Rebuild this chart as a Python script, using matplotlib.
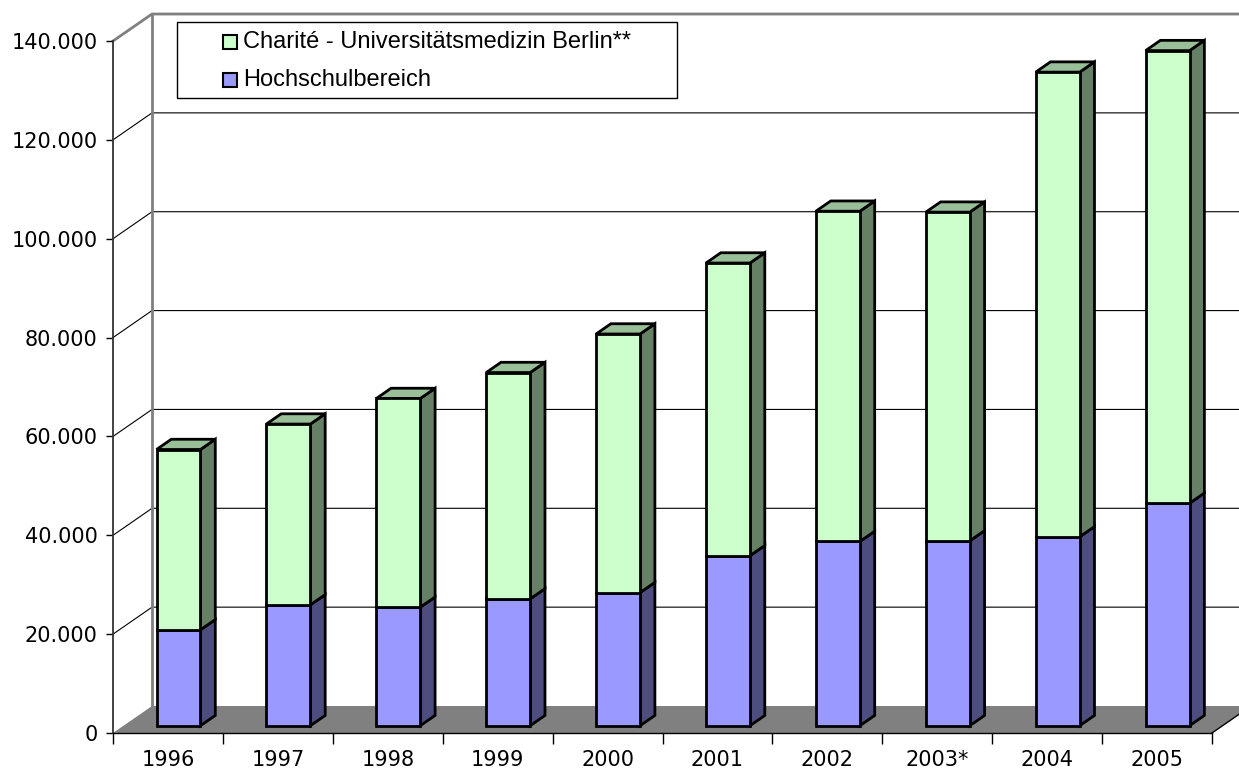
import matplotlib.pyplot as plt
from matplotlib.patches import Polygon, Rectangle
from matplotlib.ticker import FuncFormatter

years = ['1996', '1997', '1998', '1999', '2000', '2001', '2002', '2003*', '2004', '2005']
hochschule = [19400, 24450, 23970, 25660, 26930, 34390, 37270, 37400, 38220, 45000]
charite = [36480, 36580, 42230, 45790, 52320, 59220, 66820, 66500, 94010, 91580]

labels = ['Charité - Universitätsmedizin Berlin**', 'Hochschulbereich']
front_cols = ['#CCFFCC', '#9999FF']
side_cols = ['#668066', '#4D4D80']
top_cols = ['#99BF99', '#7373BF']

W, H = 1239, 771
fig = plt.figure(figsize=(W / 100, H / 100), dpi=100)
ax = fig.add_axes([113 / W, 38 / H, 1099 / W, 692 / H])
n = len(years)
ymax = 140000
ax.set_xlim(0, n)
ax.set_ylim(0, ymax)

# depth of the fake 3d box (categories / value units)
DX = 0.355
DY = 5460
f0, f1 = 0.27, 0.65   # front and back of the bars inside that depth
bw = 0.4

# floor
ax.add_patch(Polygon([(0, 0), (n, 0), (n + DX, DY), (DX, DY)], closed=True,
                     fc='#808080', ec='none', clip_on=False, zorder=1))
ax.plot([n, n + DX], [0, DY], color='black', lw=1, clip_on=False, zorder=2)

# walls and gridlines
for v in range(20000, ymax, 20000):
    ax.plot([0, DX, n + DX], [v, v + DY, v + DY], color='black', lw=0.8,
            clip_on=False, zorder=1)
ax.plot([0, DX, n + DX], [ymax, ymax + DY, ymax + DY], color='#808080', lw=2,
        clip_on=False, zorder=1)
ax.plot([DX, DX], [DY, ymax + DY], color='#808080', lw=2, clip_on=False, zorder=1)

# stacked 3d bars
ddx = (f1 - f0) * DX
ddy = (f1 - f0) * DY
lw = 2.0
for i in range(n):
    segs = [(0, hochschule[i], 1), (hochschule[i], hochschule[i] + charite[i], 0)]
    left = i + 0.5 - bw / 2 + f0 * DX
    right = left + bw
    for b, t, k in segs:
        ax.bar(left, t - b, bottom=b + f0 * DY, width=bw, align='edge',
               color=front_cols[k], edgecolor='black', lw=lw, zorder=4)
        b0, t0 = b + f0 * DY, t + f0 * DY
        ax.add_patch(Polygon([(right, b0), (right + ddx, b0 + ddy), (right + ddx, t0 + ddy), (right, t0)],
                             closed=True, fc=side_cols[k], ec='black', lw=lw, zorder=3,
                             clip_on=False, joinstyle='miter'))
    ax.add_patch(Polygon([(left, t0), (left + ddx, t0 + ddy), (right + ddx, t0 + ddy), (right, t0)],
                         closed=True, fc=top_cols[0], ec='black', lw=lw, zorder=3,
                         clip_on=False, joinstyle='miter'))

# axes
for s in ['top', 'right']:
    ax.spines[s].set_visible(False)
ax.spines['left'].set_linewidth(1.3)
ax.spines['left'].set_color('#333333')
ax.spines['bottom'].set_linewidth(1)
ax.set_yticks(range(0, ymax + 1, 20000))
ax.yaxis.set_major_formatter(FuncFormatter(lambda v, p: '{:,}'.format(int(v)).replace(',', '.')))
ax.tick_params(axis='y', length=5, width=1, pad=6, labelsize=15)
ax.set_xticks(range(n + 1))
ax.set_xticklabels([])
ax.set_xticks([i + 0.5 for i in range(n)], minor=True)
ax.set_xticklabels(years, minor=True, fontsize=15)
ax.tick_params(axis='x', which='major', length=8, width=1)
ax.tick_params(axis='x', which='minor', length=0, pad=12.5)

# legend box
def fx(px):
    return px / W

def fy(py):
    return 1 - py / H

fig.add_artist(Rectangle((fx(177), fy(98)), fx(500), 76 / H, transform=fig.transFigure,
                         fc='white', ec='black', lw=1, zorder=5))
for k, yc in zip([0, 1], [42, 80]):
    fig.add_artist(Rectangle((fx(223), fy(yc + 7)), fx(14), 14 / H, transform=fig.transFigure,
                             fc=front_cols[k], ec='black', lw=1.5, zorder=6))
    fig.text(fx(243), fy(yc), labels[k], fontsize=17, family='Liberation Sans',
             va='center', ha='left', zorder=6)

fig.savefig('out.png', dpi=100)
